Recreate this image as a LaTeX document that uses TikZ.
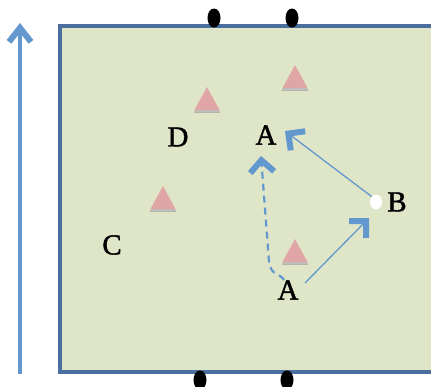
\documentclass[tikz,border=0pt]{standalone}
\usepackage{fontspec}
\setmainfont{Liberation Serif}
\newfontfamily\lblfont{Liberation Serif}[FakeBold=1.5]
\usetikzlibrary{arrows.meta,shapes.geometric}
\definecolor{field}{HTML}{DFE6C8}
\definecolor{border}{HTML}{4A6F9E}
\definecolor{arr}{HTML}{6398CF}
\definecolor{cone}{HTML}{E0A5A5}
\definecolor{shade}{HTML}{8E9680}
\tikzset{
  lbl/.style={font=\lblfont\fontsize{29}{33}\selectfont, inner sep=0pt},
  post/.style={ellipse, fill=black, minimum width=13pt, minimum height=19pt, inner sep=0pt},
  tipbarb/.style={-{Straight Barb[length=12pt, width=24pt, line width=6pt 0]}},
  runarrow/.style={draw=arr, line width=1.3pt, tipbarb},
  bigarrow/.style={draw=arr, line width=4.5pt, -{Straight Barb[length=14pt, width=22pt, line width=6pt 0]}},
}
\begin{document}
\begin{tikzpicture}[x=1pt,y=-1pt]
\useasboundingbox (0,0) rectangle (431,386);
\begin{scope}
\clip (0,0) rectangle (431,386);
% field
\fill[field] (60,26) rectangle (440,372);
\draw[border, line width=4.5pt] (445,26) -- (60,26) -- (60,372) -- (445,372);
% posts
\node[post] (p1) at (214,18) {};
\node[post] (p2) at (292,18) {};
\node[post] (p3) at (200,380) {};
\node[post] (p4) at (287,380) {};
% left arrow
\coordinate (lb) at (20,374);
\coordinate (lt) at (20,23);
\draw[bigarrow] (lb) -- (lt);
% cones
\foreach \x/\y in {207/99, 295/77, 163/198, 295/251} {
  \fill[shade, opacity=0.7] (\x,\y-9) -- (\x+13,\y+13.5) -- (\x-13,\y+13.5) -- cycle;
  \fill[cone] (\x,\y-12) -- (\x+12.5,\y+11) -- (\x-12.5,\y+11) -- cycle;
}
% labels
\node[lbl] (D) at (178,137) {D};
\node[lbl] (A1) at (266,135) {A};
\node[lbl] (C) at (112,245) {C};
\node[lbl] (B) at (397,202) {B};
\node[lbl] (A2) at (288,290) {A};
\node[ellipse, fill=white, minimum width=12pt, minimum height=15pt, inner sep=0pt] (ball) at (376,202) {};
% runs
\coordinate (t1) at (285,131);
\coordinate (t2) at (369,218);
\coordinate (t3) at (261,156);
\draw[runarrow] (ball.north west) -- (t1);
\draw[runarrow] (305,283) -- (t2);
\draw[draw=arr, line width=2.2pt, dash pattern=on 7pt off 5pt, tipbarb]
  (284,280) .. controls (280,273) and (271,276) .. (269,262) -- (t3);
\end{scope}
\end{tikzpicture}
\end{document}
